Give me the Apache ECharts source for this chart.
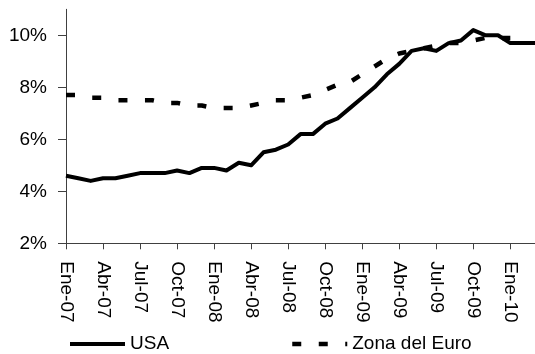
<!DOCTYPE html>
<html>
<head>
<meta charset="utf-8">
<script src="https://cdn.jsdelivr.net/npm/echarts@6/dist/echarts.min.js"></script>
<style>
  html, body { margin: 0; padding: 0; background: #fff; }
  #chart { width: 535px; height: 354px; }
</style>
</head>
<body>
<div id="chart"></div>
<script>
// Monthly unemployment rate (%), Jan 2007 - Mar 2010
const months = ['Ene', 'Feb', 'Mar', 'Abr', 'May', 'Jun', 'Jul', 'Ago', 'Sep', 'Oct', 'Nov', 'Dic'];
const years = ['07', '08', '09', '10'];
const categories = [];
years.forEach(function (y) {
  months.forEach(function (m) { categories.push(m + '-' + y); });
});
categories.length = 39; // through Mar-10

const usa = [
  4.6, 4.5, 4.4, 4.5, 4.5, 4.6, 4.7, 4.7, 4.7, 4.8, 4.7, 4.9,
  4.9, 4.8, 5.1, 5.0, 5.5, 5.6, 5.8, 6.2, 6.2, 6.6, 6.8, 7.2,
  7.6, 8.0, 8.5, 8.9, 9.4, 9.5, 9.4, 9.7, 9.8, 10.2, 10.0, 10.0,
  9.7, 9.7, 9.7
];

const zonaEuro = [
  7.7, 7.7, 7.6, 7.6, 7.5, 7.5, 7.5, 7.5, 7.4, 7.4, 7.3, 7.3,
  7.2, 7.2, 7.2, 7.3, 7.4, 7.5, 7.5, 7.6, 7.7, 7.9, 8.1, 8.2,
  8.5, 8.8, 9.1, 9.3, 9.4, 9.5, 9.6, 9.7, 9.7, 9.8, 9.9, 9.9,
  9.9
];

const yTicks = [2, 4, 6, 8, 10];

const FONT = "'Liberation Sans Narrow', 'Arial Narrow', 'Liberation Sans', Arial, sans-serif";
const FONT_SIZE = 19;
const AXIS = '#404040';

const legendBase = {
  padding: 0,
  top: 334,
  itemWidth: 55,
  itemHeight: 2,
  itemStyle: { opacity: 0, color: 'rgba(0,0,0,0)' },
  textStyle: { fontFamily: FONT, fontSize: FONT_SIZE, lineHeight: 20, color: '#000' }
};

const chart = echarts.init(document.getElementById('chart'), null, { renderer: 'canvas' });

chart.setOption({
  animation: false,
  backgroundColor: '#fff',
  grid: { left: 66, top: 9.3, bottom: 110.7, right: -6, containLabel: false },
  legend: [
    Object.assign({}, legendBase, {
      data: ['USA'],
      left: 68,
      lineStyle: { width: 4, color: '#000' }
    }),
    Object.assign({}, legendBase, {
      data: ['Zona del Euro'],
      left: 290,
      lineStyle: { width: 4.5, color: '#000' }
    })
  ],
  xAxis: {
    type: 'category',
    data: categories,
    boundaryGap: false,
    axisLine: { lineStyle: { color: AXIS, width: 1 } },
    axisTick: { show: true, interval: 2, length: 6, lineStyle: { color: AXIS } },
    axisLabel: {
      interval: 2,
      rotate: -90,
      margin: 18,
      fontFamily: FONT,
      fontSize: FONT_SIZE,
      color: '#000'
    },
    splitLine: { show: false }
  },
  yAxis: {
    type: 'value',
    min: 2,
    max: 11,
    interval: 2,
    axisLine: { show: true, lineStyle: { color: AXIS, width: 1 } },
    axisTick: { show: true, length: 8, lineStyle: { color: AXIS }, customValues: yTicks },
    axisLabel: {
      margin: 19,
      fontFamily: FONT,
      fontSize: FONT_SIZE,
      color: '#000',
      customValues: yTicks,
      formatter: function (v) { return v + '%'; }
    },
    splitLine: { show: false }
  },
  series: [
    {
      name: 'USA',
      type: 'line',
      data: usa,
      symbol: 'none',
      lineStyle: { color: '#000', width: 4, cap: 'butt', join: 'round' },
      itemStyle: { color: '#000' }
    },
    {
      name: 'Zona del Euro',
      type: 'line',
      data: zonaEuro,
      symbol: 'none',
      lineStyle: { color: '#000', width: 4.5, type: [9, 17.5], cap: 'butt' },
      itemStyle: { color: '#000' }
    }
  ]
});
</script>
</body>
</html>
